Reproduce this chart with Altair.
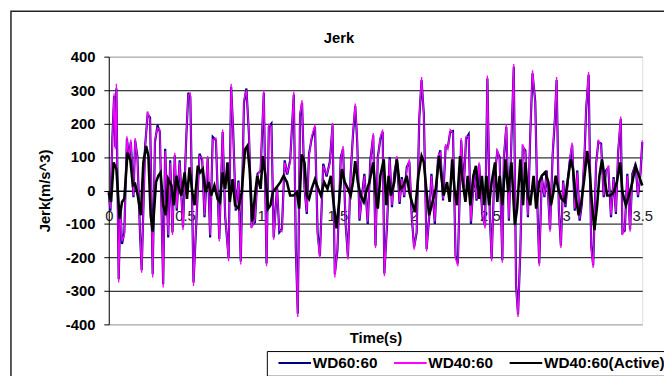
import altair as alt
import pandas as pd

# ---------------- data ----------------
chart_title = "Jerk"
series_names = ["WD60:60", "WD40:60", "WD40:60(Active)"]
series_colors = ["#000080", "#ff00ff", "#000000"]
x_ticks = [0, 0.5, 1, 1.5, 2, 2.5, 3, 3.5]
y_ticks = [-400, -300, -200, -100, 0, 100, 200, 300, 400]

# time samples shared by the two passive configurations (s)
t_pass = [
    0.000, 0.011, 0.024, 0.035, 0.043, 0.050, 0.065, 0.076, 0.087, 0.102,
    0.119, 0.132, 0.145, 0.162, 0.173, 0.188, 0.206, 0.216, 0.238, 0.255,
    0.271, 0.288, 0.303, 0.320, 0.335, 0.357, 0.370, 0.390, 0.403, 0.418,
    0.433, 0.446, 0.465, 0.487, 0.509, 0.522, 0.535, 0.556, 0.574, 0.595,
    0.613, 0.628, 0.649, 0.665, 0.682, 0.703, 0.725, 0.747, 0.764, 0.786,
    0.803, 0.816, 0.833, 0.851, 0.866, 0.887, 0.903, 0.920, 0.937, 0.959,
    0.976, 0.996, 1.017, 1.035, 1.050, 1.067, 1.082, 1.104, 1.119, 1.136,
    1.154, 1.171, 1.190, 1.214, 1.227, 1.240, 1.255, 1.268, 1.284, 1.299,
    1.314, 1.331, 1.353, 1.370, 1.385, 1.407, 1.429, 1.450, 1.468, 1.483,
    1.500, 1.522, 1.537, 1.554, 1.569, 1.587, 1.602, 1.617, 1.630, 1.645,
    1.660, 1.677, 1.699, 1.716,
    1.735, 1.750, 1.765, 1.782, 1.797, 1.808, 1.826, 1.843, 1.858, 1.873,
    1.890, 1.908, 1.923, 1.938, 1.955, 1.972, 1.988, 2.003, 2.020, 2.037,
    2.052, 2.067, 2.085, 2.102, 2.117, 2.139, 2.160, 2.175, 2.193, 2.210,
    2.225, 2.240, 2.258, 2.275, 2.290, 2.312, 2.329, 2.344, 2.361, 2.376,
    2.398, 2.413, 2.430, 2.452, 2.469, 2.484, 2.500, 2.512, 2.528, 2.549,
    2.564, 2.582, 2.592, 2.608, 2.625, 2.642, 2.657, 2.672, 2.685, 2.700,
    2.716, 2.733, 2.750, 2.765, 2.780, 2.798, 2.813, 2.824, 2.841, 2.858,
    2.873, 2.895, 2.912, 2.927, 2.938, 2.953, 2.966, 2.981, 2.996, 3.014,
    3.024, 3.040, 3.057, 3.074, 3.089, 3.104, 3.122, 3.132, 3.148, 3.165,
    3.178, 3.197, 3.212, 3.230, 3.247, 3.262, 3.277, 3.295, 3.312, 3.327,
    3.342, 3.359, 3.370, 3.385, 3.402, 3.420, 3.435, 3.456, 3.472, 3.489,
    3.500,
]

# WD40:60 jerk (m/s^3)
wd4060 = [
    -5, -54, 152, 290, 123, 319, -275, -44, -152, -133,
    162, 93, 152, -15, 157, 93, -133, -246, 123, 236,
    211, -260, 152, 187, 182, -290, 118, -133, 84, -133,
    113, -54, 84, -118, 172, 285, 290, -285, -93, 103,
    98, -74, 103, -133, 152, 157, -152, 182, -74, -211,
    319, 172, -54, 25, -221, 270, 300, 172, -113, -88,
    44, 64, 300, -226, 197, 192, -147, 5, -118, -123,
    84, 54, 84, 295, -162, -378, 231, 270, 5, -64,
    103, 162, 197, -133, -202, 74, 49, 79, 202, -260,
    -172, 93, 133, -93, -206, 44, 172, 260, 152, -84,
    -25, 44, -93, 84,
    172, -172, 93, 162, 182, -256, -93, 93, -44, 44,
    103, -34, 34, -15, 64, 93, -74, -177, -118, 221,
    339, 221, -182, -74, 44, -93, 103, 113, -25, 138,
    123, 182, 172, -202, -226, 157, 5, 162, 162, -93,
    54, -25, 84, -74, -113, 344, -74, -211, 25, 123,
    93, -216, 103, 197, -84, 162, 378, -290, -378, -172,
    138, 113, -74, 172, 359, 260, -54, -226, 34, -15,
    54, -123, 113, 221, 339, -54, -172, 25, -44, 34,
    93, 143, -54, 54, -84, -34, 123, 251, 354, -172,
    -231, 74, 152, 133, -15, 54, 74, -74, 34, -64,
    123, 221, -133, -113, 44, -123, 44, 84, -15, 60,
    150,
]

# WD60:60 jerk (m/s^3)
wd6060 = [
    -8, -60, 160, 282, 130, 305, -265, -50, -160, -125,
    155, 100, 145, -20, 150, 100, -140, -238, 130, 228,
    218, -250, 145, 195, 175, -280, 125, -140, 90, -125,
    105, -60, 90, -110, 165, 292, 280, -275, -100, 110,
    92, -80, 96, -140, 160, 150, -145, 175, -80, -200,
    310, 180, -60, 30, -212, 262, 305, 165, -105, -95,
    50, 58, 292, -218, 190, 200, -140, 10, -125, -115,
    90, 48, 90, 287, -170, -368, 225, 262, 10, -70,
    110, 155, 190, -125, -195, 80, 42, 85, 195, -250,
    -180, 100, 125, -100, -198, 50, 165, 252, 145, -90,
    -20, 50, -100, 90,
    165, -165, 100, 155, 175, -248, -100, 100, -50, 50,
    96, -40, 40, -20, 70, 86, -80, -170, -125, 214,
    330, 228, -175, -80, 50, -100, 96, 120, -30, 130,
    130, 175, 178, -195, -218, 150, 10, 155, 168, -100,
    60, -30, 78, -80, -105, 335, -80, -204, 30, 116,
    100, -208, 96, 190, -90, 155, 370, -282, -370, -180,
    130, 120, -80, 165, 350, 266, -60, -218, 40, -20,
    60, -116, 106, 214, 330, -60, -165, 30, -50, 40,
    86, 136, -60, 60, -90, -40, 116, 244, 346, -165,
    -224, 80, 145, 140, -20, 60, 68, -80, 40, -70,
    116, 214, -126, -120, 50, -116, 50, 78, -20, 55,
    145,
]

# time samples of the active configuration (s)
t_active = [
    0.000, 0.015, 0.032, 0.050, 0.071, 0.087, 0.102, 0.123, 0.141, 0.158,
    0.173, 0.190, 0.210, 0.227, 0.245, 0.260, 0.275, 0.288, 0.310, 0.325,
    0.340, 0.357, 0.374, 0.390, 0.411, 0.426, 0.444, 0.461, 0.476, 0.498,
    0.513, 0.530, 0.548, 0.563, 0.584, 0.600, 0.617, 0.634, 0.656, 0.671,
    0.693, 0.714, 0.729, 0.747, 0.764, 0.779, 0.794, 0.812, 0.829, 0.851,
    0.872, 0.894, 0.909, 0.924, 0.942, 0.959, 0.974, 0.996, 1.011, 1.028,
    1.045, 1.061, 1.076, 1.093, 1.110, 1.126, 1.147, 1.169, 1.190, 1.212,
    1.234, 1.249, 1.266, 1.284, 1.299, 1.314, 1.331, 1.353, 1.374, 1.392,
    1.413, 1.435, 1.457, 1.472, 1.494, 1.509, 1.530, 1.548, 1.569, 1.587,
    1.602, 1.617, 1.634, 1.652, 1.673, 1.688, 1.710,
    1.735, 1.750, 1.765, 1.782, 1.804, 1.821, 1.836, 1.851, 1.873, 1.890,
    1.912, 1.934, 1.955, 1.972, 1.988, 2.009, 2.031, 2.052, 2.067, 2.085,
    2.102, 2.124, 2.145, 2.167, 2.182, 2.197, 2.219, 2.236, 2.253, 2.268,
    2.284, 2.305, 2.322, 2.340, 2.355, 2.372, 2.392, 2.409, 2.430, 2.448,
    2.463, 2.478, 2.495, 2.512, 2.534, 2.549, 2.564, 2.582, 2.603, 2.620,
    2.642, 2.664, 2.679, 2.700, 2.718, 2.733, 2.750, 2.765, 2.787, 2.804,
    2.824, 2.841, 2.862, 2.884, 2.901, 2.917, 2.932, 2.949, 2.970, 2.992,
    3.009, 3.031, 3.046, 3.061, 3.083, 3.100, 3.117, 3.139, 3.154, 3.169,
    3.186, 3.204, 3.219, 3.236, 3.251, 3.269, 3.290, 3.312, 3.333, 3.355,
    3.370, 3.392, 3.413, 3.435, 3.456, 3.478, 3.500,
]

# WD40:60(Active) jerk (m/s^3)
wd4060_active = [
    -5, -34, 84, 64, -84, -34, -25, 113, 93, 15,
    20, -15, -74, 84, 133, 103, -74, -123, 25, 44,
    54, -44, -74, 34, 15, -44, 44, 5, -15, 54,
    -25, 69, -5, -44, 74, 54, 64, -5, 25, -15,
    15, -25, -34, 54, 5, 84, -34, 34, -44, -54,
    -5, 123, 133, 64, -93, -15, 44, 5, 103, 44,
    -54, -44, -5, 5, 15, 25, 44, 25, -15, -15,
    -5, -54, 108, 84, -15, -25, 5, 34, 5, -15,
    25, 5, 44, -25, -113, -44, 64, 25, 5, -15,
    25, 88, 25, -15, -34, -5, 25,
    84, -5, -54, 44, 93, -44, 44, -15, 25, 93,
    5, 15, 44, -5, -34, -64, 44, 103, 84, -5,
    -74, -34, 5, 103, 44, -15, 25, -34, 93, 5,
    -44, 103, 25, -34, 44, -44, 44, 74, -25, 44,
    -44, 44, -44, 25, 84, -34, 44, -44, 93, -5,
    84, -103, -54, 93, -44, 84, -15, -44, 44, -54,
    25, 44, 54, 25, -44, -5, 44, 5, -25, -34,
    25, 93, 64, -15, -74, -34, 25, 118, 64, -34,
    -118, -44, 44, 93, 44, -15, -15, -5, 25, 84,
    -5, -44, -15, 25, 74, 44, 15,
]

# ---------------- table ----------------
df = pd.concat([
    pd.DataFrame({"t": t_pass, "jerk": wd6060, "series": series_names[0]}),
    pd.DataFrame({"t": t_pass, "jerk": wd4060, "series": series_names[1]}),
    pd.DataFrame({"t": t_active, "jerk": wd4060_active, "series": series_names[2]}),
], ignore_index=True)

FONT = "Liberation Sans"
W, H = 540, 271

x_enc = alt.X(
    "t:Q",
    scale=alt.Scale(domain=[0, 3.5], nice=False, zero=False),
    axis=alt.Axis(
        title="Time(s)", values=x_ticks, labelExpr="toString(datum.value)",
        grid=False, ticks=False, tickSize=0, offset=-H / 2,
        domainColor="black", labelPadding=18, labelFont=FONT, labelFontSize=15,
        labelColor="#222222", labelFlush=False, labelOverlap=False,
        titleFont=FONT, titleFontSize=15, titleFontWeight="bold", titleColor="black",
        titleY=154, titleBaseline="alphabetic",
    ),
)
y_enc = alt.Y(
    "jerk:Q",
    scale=alt.Scale(domain=[-400, 400], nice=False),
    axis=alt.Axis(
        title="Jerk(m/s^3)", values=y_ticks, labelExpr="toString(datum.value)",
        grid=True,
        gridColor={"condition": {"test": "abs(datum.value) >= 400", "value": "#a0a0a0"},
                   "value": "#000000"},
        domainColor="black", tickColor="black", tickSize=5, labelPadding=9,
        labelFont=FONT, labelFontSize=15, labelFontWeight="bold", labelColor="black",
        titleFont=FONT, titleFontSize=15, titleFontWeight="bold", titleColor="black",
        titlePadding=13,
    ),
)
color_enc = alt.Color(
    "series:N",
    scale=alt.Scale(domain=series_names, range=series_colors),
    legend=alt.Legend(
        orient="none", legendX=160, legendY=298, direction="horizontal", title=None,
        symbolType="M0,0H8", symbolSize=68, symbolStrokeWidth=2, labelOffset=27,
        labelFont=FONT, labelFontSize=15.5, labelFontWeight="bold", labelColor="black",
        strokeColor="black", fillColor="white", padding=4, columnPadding=9,
        labelLimit=300,
    ),
)

base = alt.Chart(df).encode(x=x_enc, y=y_enc, color=color_enc)
widths = [2.2, 1.3, 2.6]
lines = [
    base.transform_filter(alt.datum.series == s).mark_line(strokeWidth=w)
    for s, w in zip(series_names, widths)
]

one_row = pd.DataFrame({"label": [chart_title]})
frame = alt.Chart(one_row).mark_rect(
    fillOpacity=0, stroke="#222222", strokeWidth=1.5
).encode(x=alt.value(-99), x2=alt.value(700), y=alt.value(-46), y2=alt.value(420))

title_mark = alt.Chart(one_row).mark_text(
    font=FONT, fontSize=15, fontWeight="bold", color="black",
    align="center", baseline="alphabetic",
).encode(x=alt.value(233), y=alt.value(-14), text="label:N")

chart = alt.layer(frame, *lines, title_mark).properties(
    width=W, height=H,
    autosize=alt.AutoSizeParams(type="none"),
    padding={"left": 102, "top": 47, "right": 22, "bottom": 50},
).configure_view(stroke="#a0a0a0", strokeWidth=1).configure(background="white")

chart.save("out.html", embed_options={"renderer": "svg", "actions": False})
